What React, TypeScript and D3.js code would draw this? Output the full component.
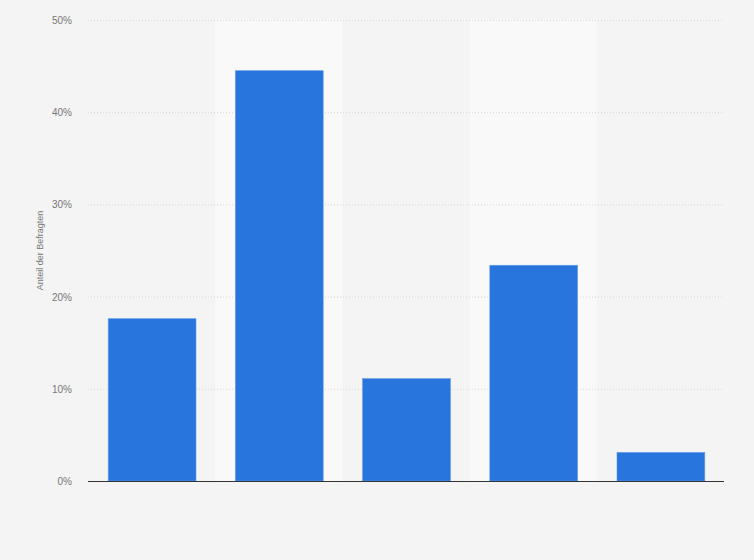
import React, {useEffect, useRef} from 'react';
import * as d3 from "d3"

// Werte
const categories = ["A", "B", "C", "D", "E"]
const values = [17.6, 44.5, 11.1, 23.4, 3.1]
const yTicks = [0, 10, 20, 30, 40, 50]

const App = () => {
  const ref = useRef<SVGSVGElement>(null)

  useEffect(() => {
    document.body.style.margin = "0"
    var width = 754
    var height = 560
    var margin = ({top: 20, right: 30, bottom: 79, left: 88})

    const svg = d3.select(ref.current)
    svg.selectAll("*").remove()

    svg.append("rect")
      .attr("width", width).attr("height", height)
      .attr("fill", "#f4f4f4")

    let x = d3.scaleBand()
      .domain(categories)
      .range([margin.left + 0.5, width - margin.right + 0.5])
      .paddingInner(0.31)
      .paddingOuter(0.155)

    let band = d3.scaleBand()
      .domain(categories)
      .range([margin.left, width - margin.right])

    let y = d3.scaleLinear()
      .domain([0, 50])
      .range([height - margin.bottom, margin.top])

    // alternierende Spalten
    svg.append("g")
      .selectAll("rect")
      .data(categories.filter((d, i) => i % 2 === 1))
      .join("rect")
        .attr("x", d => band(d) as number)
        .attr("y", margin.top)
        .attr("width", band.bandwidth())
        .attr("height", height - margin.bottom - margin.top)
        .attr("fill", "#f9f9f9")

    // Gitterlinien
    svg.append("g")
      .selectAll("line")
      .data(yTicks.filter(d => d > 0))
      .join("line")
        .attr("x1", margin.left)
        .attr("x2", width - margin.right)
        .attr("y1", d => y(d) + 0.5)
        .attr("y2", d => y(d) + 0.5)
        .attr("stroke", "#d6d6d6")
        .attr("stroke-dasharray", "1,2")

    // Tick-Beschriftungen
    svg.append("g")
      .selectAll("text")
      .data(yTicks)
      .join("text")
        .attr("x", margin.left - 16)
        .attr("y", d => y(d) + 4)
        .attr("text-anchor", "end")
        .attr("font-family", "'Liberation Sans', Arial, sans-serif")
        .attr("font-size", 10)
        .attr("fill", "#777")
        .text(d => d + "%")

    // Balken
    svg.append("g")
      .selectAll("rect")
      .data(values)
      .join("rect")
        .attr("x", (d, i) => x(categories[i]) as number)
        .attr("y", d => y(d))
        .attr("width", x.bandwidth())
        .attr("height", d => y(0) - y(d))
        .attr("fill", "#2876dd")
        .attr("stroke", "#5b97e6")
        .attr("stroke-width", 0.6)

    // x-Achse
    svg.append("line")
      .attr("x1", margin.left)
      .attr("x2", width - margin.right)
      .attr("y1", y(0) + 0.5)
      .attr("y2", y(0) + 0.5)
      .attr("stroke", "#333")
      .attr("stroke-width", 1.2)

    // y-Achsenbeschriftung
    svg.append("text")
      .attr("transform", `translate(43,${(margin.top + height - margin.bottom) / 2}) rotate(-90)`)
      .attr("text-anchor", "middle")
      .attr("font-family", "'Liberation Sans', Arial, sans-serif")
      .attr("font-size", 9)
      .attr("fill", "#777")
      .text("Anteil der Befragten")
  }, [])

  return (
    <svg ref={ref} width={754} height={560} style={{display: "block"}}></svg>
  )
}
export default App;
